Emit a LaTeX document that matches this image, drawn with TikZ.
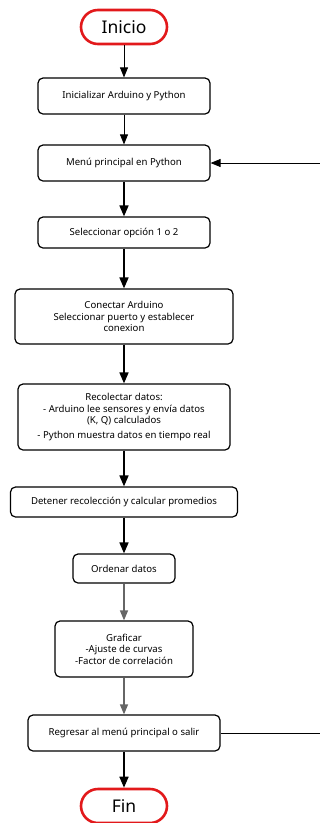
\documentclass[tikz,border=0pt]{standalone}
\usepackage{fontspec}
\setmainfont{Noto Sans}
\usetikzlibrary{positioning,arrows.meta}
\usepackage{xcolor}
\definecolor{termred}{HTML}{E2191B}

\begin{document}
\begin{tikzpicture}[x=1pt,y=-1pt,>={Triangle[length=10pt,width=8pt]},
  box/.style={draw,line width=1.2pt,rounded corners=5pt,align=center,inner sep=0pt,font=\fontsize{9.6}{11.6}\selectfont},
  term/.style={draw=termred,line width=2.6pt,rounded corners=17pt,minimum width=86pt,minimum height=34pt,font=\fontsize{17.5}{20}\selectfont},
  thin/.style={->,line width=0.8pt},
  bold/.style={->,line width=1.7pt,>={Triangle[length=11pt,width=9pt]}},
  soft/.style={->,line width=1.3pt,draw=black!60,>={Triangle[length=10pt,width=8pt]}}]
\useasboundingbox (0,0) rectangle (320,823);
\node[term] (inicio) at (124,27) {Inicio};
\node[box,minimum width=172pt,minimum height=36pt] (init) at (124,96) {Inicializar Arduino y Python};
\node[box,minimum width=172pt,minimum height=36pt] (menu) at (124,163) {Menú principal en Python};
\node[box,minimum width=172pt,minimum height=31pt] (opcion) at (124,232.5) {Seleccionar opción 1 o 2};
\node[box,minimum width=218pt,minimum height=55pt] (conectar) at (124,316.5) {Conectar Arduino\\Seleccionar puerto y establecer\\conexion};
\node[box,minimum width=212pt,minimum height=66pt] (recolectar) at (124,417) {Recolectar datos:\\- Arduino lee sensores y envía datos\\(K, Q) calculados\\[3pt]- Python muestra datos en tiempo real};
\node[box,minimum width=227pt,minimum height=30pt] (detener) at (124,502) {Detener recolección y calcular promedios};
\node[box,minimum width=102pt,minimum height=29pt] (ordenar) at (124,568.5) {Ordenar datos};
\node[box,minimum width=138pt,minimum height=56pt] (graficar) at (124,649) {Graficar\\-Ajuste de curvas\\-Factor de correlación};
\node[box,minimum width=192pt,minimum height=36pt] (regresar) at (124,733) {Regresar al menú principal o salir};
\node[term] (fin) at (124,806) {Fin};
\coordinate (vuelta) at (320,163);
\coordinate (salida) at (320,733);
% flujo principal
\draw[thin] (inicio) -- (init);
\draw[thin] (init) -- (menu);
\draw[bold] (menu) -- (opcion);
\draw[bold] (opcion) -- (conectar);
\draw[bold] (conectar) -- (recolectar);
\draw[bold] (recolectar) -- (detener);
\draw[bold] (detener) -- (ordenar);
\draw[soft] (ordenar) -- (graficar);
\draw[soft] (graficar) -- (regresar);
\draw[bold] (regresar) -- (fin);
% retorno al menu
\draw[thin] (vuelta) -- (menu);
\draw[line width=0.8pt] (regresar) -- (salida);
\end{tikzpicture}
\end{document}
